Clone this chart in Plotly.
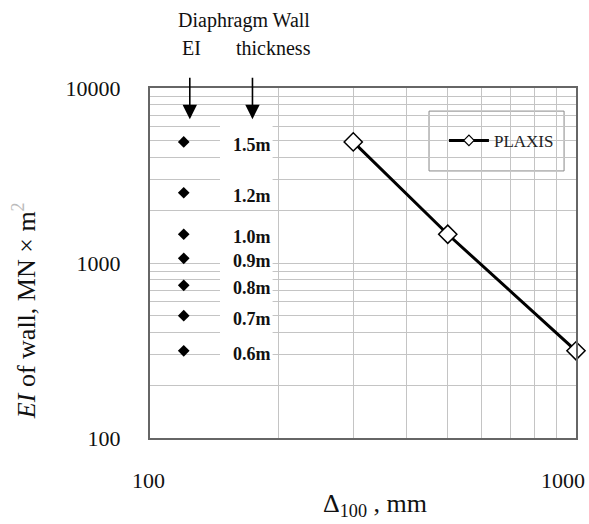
import math
import plotly.graph_objects as go

# Flexural stiffness EI (MN*m^2/m) of each diaphragm wall thickness
wall_thickness = ["1.5m", "1.2m", "1.0m", "0.9m", "0.8m", "0.7m", "0.6m"]
wall_ei = [4920, 2520, 1460, 1063, 745, 500, 315]

# PLAXIS results: Delta_100 (mm) against EI of wall
plaxis_delta = [300, 500, 1000]
plaxis_ei = [4920, 1460, 315]

x_grid_vals = [100, 200, 300, 400, 500, 600, 700, 800, 900, 1000]
x_tick_labels = {100: "100", 1000: "1000"}
y_grid_vals = [100, 200, 300, 400, 500, 600, 700, 800, 900,
               1000, 2000, 3000, 4000, 5000, 6000, 7000, 8000, 9000, 10000]
y_tick_labels = {100: "100", 1000: "1000", 10000: "10000"}

FONT = "Liberation Serif"
EI_COL_X = 120        # x position of the EI marker column
THK_COL_X = 174       # x position of the thickness label column

lg = math.log10       # annotations on log axes take log10 coordinates

fig = go.Figure()

# white panels behind the thickness labels
for y0, y1 in [(2150, 6700), (250, 1850)]:
    fig.add_shape(type="rect", xref="x", yref="y", x0=146, x1=194, y0=y0, y1=y1,
                  fillcolor="white", line=dict(width=0), layer="between")

# legend frame
fig.add_shape(type="rect", xref="paper", yref="paper", x0=0.655, x1=0.972,
              y0=0.763, y1=0.934, fillcolor="white",
              line=dict(color="#888", width=1), layer="between")

fig.add_trace(go.Scatter(
    x=[EI_COL_X] * len(wall_ei), y=wall_ei, mode="markers",
    marker=dict(symbol="diamond", size=9, color="black"),
    showlegend=False, hoverinfo="skip"))

plaxis_line = dict(color="black", width=3)
fig.add_trace(go.Scatter(
    x=plaxis_delta, y=plaxis_ei, mode="lines+markers", name="PLAXIS",
    line=plaxis_line, showlegend=False,
    marker=dict(symbol="diamond", size=14, color="white",
                line=dict(color="black", width=1.5)),
    cliponaxis=False))
# legend entry with a smaller symbol
fig.add_trace(go.Scatter(
    x=[None], y=[None], mode="lines+markers", name="PLAXIS", line=plaxis_line,
    marker=dict(symbol="diamond", size=8, color="white",
                line=dict(color="black", width=1.2))))

ann = []
for lbl, ei in zip(wall_thickness, wall_ei):
    ann.append(dict(x=lg(THK_COL_X), y=lg(ei), xref="x", yref="y",
                    text=f"<b>{lbl}</b>", showarrow=False, yshift=-3,
                    xanchor="center", yanchor="middle",
                    font=dict(family=FONT, size=18, color="#111")))

# column arrows
for cx in [EI_COL_X + 4, THK_COL_X]:
    ann.append(dict(x=lg(cx), y=0.911, xref="x", yref="paper", text="",
                    showarrow=True, ax=0, ay=-43, arrowhead=2, arrowsize=1.8,
                    arrowwidth=1.6, arrowcolor="black"))

# column headers
for txt, cx, cy in [("Diaphragm Wall", 166, 1.194), ("EI", 125, 1.114),
                    ("thickness", 195, 1.114)]:
    ann.append(dict(x=lg(cx), y=cy, xref="x", yref="paper", text=txt,
                    showarrow=False, xanchor="center", yanchor="middle",
                    font=dict(family=FONT, size=20, color="#111")))

# x tick labels
for v, t in x_tick_labels.items():
    ann.append(dict(x=lg(v), y=0, xref="x", yref="paper", text=t, showarrow=False,
                    xanchor="center", yanchor="middle", yshift=-42,
                    xshift=-2 if v == 100 else -13,
                    font=dict(family=FONT, size=22, color="#111")))

# axis titles
ann.append(dict(x=lg(338), y=-0.19, xref="x", yref="paper",
                text="\u0394<sub>100</sub> , mm", showarrow=False,
                xanchor="center", yanchor="middle", borderpad=0,
                font=dict(family=FONT, size=26, color="#111")))
ann.append(dict(x=-0.293, y=0.363, xref="paper", yref="paper", textangle=-90,
                text="<i>EI</i> of wall, MN \u00d7 m<span style='color:#bbb'><sup>2</sup></span>",
                showarrow=False, xanchor="center", yanchor="middle",
                font=dict(family=FONT, size=26, color="#111")))

fig.update_layout(
    width=589, height=524,
    margin=dict(l=150, r=13, t=88, b=86),
    paper_bgcolor="white", plot_bgcolor="white",
    font=dict(family=FONT, color="#111"),
    annotations=ann,
    legend=dict(x=0.69, y=0.849, xanchor="left", yanchor="middle",
                bgcolor="rgba(0,0,0,0)", borderwidth=0, itemwidth=40,
                font=dict(family=FONT, size=17, color="#222")),
    xaxis=dict(type="log", range=[2, 3], tickvals=x_grid_vals,
               showticklabels=False, ticks="",
               showgrid=True, gridcolor="#c4c4c4", gridwidth=1.2,
               showline=True, mirror=True, linecolor="#666", linewidth=2,
               zeroline=False),
    yaxis=dict(type="log", range=[2, 4], tickvals=y_grid_vals,
               ticktext=[y_tick_labels.get(v, "") for v in y_grid_vals],
               ticks="", ticklabelstandoff=23,
               tickfont=dict(family=FONT, size=22, color="#111"),
               showgrid=True, gridcolor="#c4c4c4", gridwidth=1.2,
               showline=True, mirror=True, linecolor="#666", linewidth=2,
               zeroline=False),
)

fig.write_html("out.html")
